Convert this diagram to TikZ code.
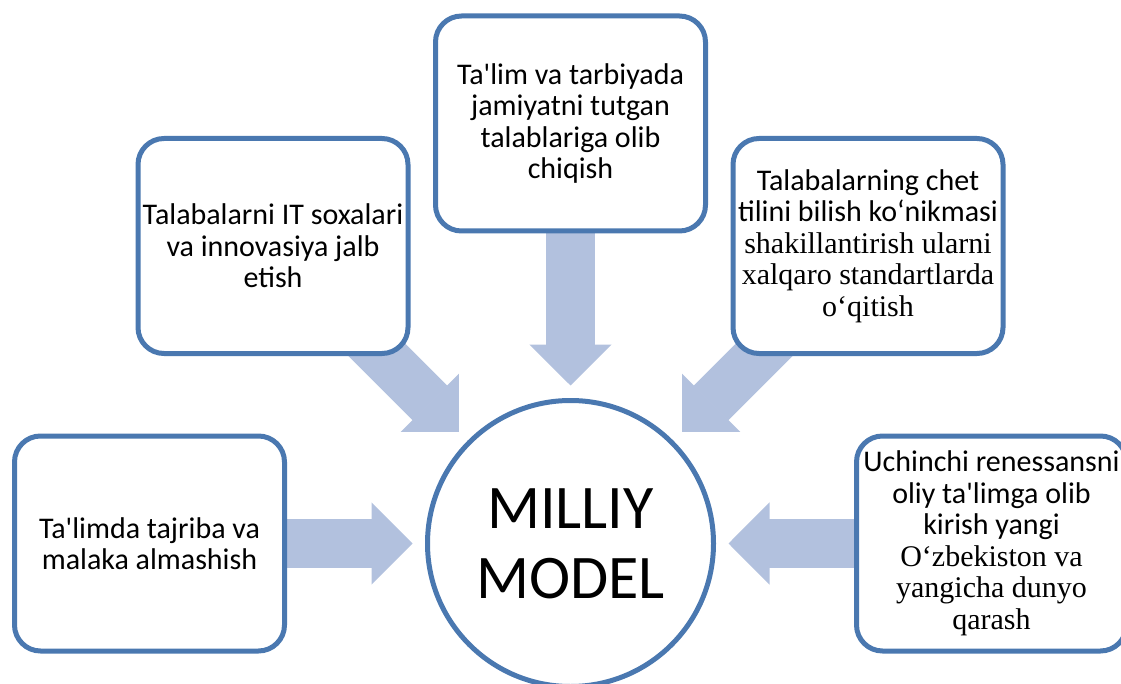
\documentclass[tikz,border=0pt]{standalone}
\usepackage{fontspec}
\setmainfont{Carlito}
\newfontfamily\timesfont{Liberation Serif}
\usetikzlibrary{arrows.meta,backgrounds}

\definecolor{edgeblue}{RGB}{74,120,176}
\definecolor{arrowfill}{RGB}{178,193,222}

\begin{document}
\begin{tikzpicture}[x=1pt,y=-1pt,
  box/.style={draw=edgeblue, line width=5pt, fill=white, rectangle, rounded corners=26pt,
    minimum width=270pt, minimum height=215pt, inner sep=0pt, align=center,
    font=\fontsize{30}{31.5}\selectfont},
  fat/.style={draw=arrowfill, line width=49pt, shorten >=12.5pt,
    -{Triangle[length=41pt,width=82pt,line width=2pt]}}
]
\useasboundingbox (0,0) rectangle (1121,684);

  \node[draw=edgeblue, line width=5pt, fill=white, circle, minimum size=286pt, inner sep=0pt,
    align=center, font=\fontsize{62}{70}\selectfont] (m) at (570.5,543.5) {MILLIY\\MODEL};

  \node[box] (n1) at (570.5,123.5) {
    Ta\textquotesingle lim va tarbiyada\\
    jamiyatni tutgan\\
    talablariga olib\\
    chiqish
  };

  \node[box] (n2) at (273,246) {
    Talabalarni IT soxalari\\
    va innovasiya jalb\\
    etish
  };

  \node[box] (n3) at (868,246) {
    Talabalarning chet\\
    tilini bilish ko‘nikmasi\\
    {\timesfont shakillantirish ularni}\\
    {\timesfont xalqaro standartlarda}\\
    {\timesfont o‘qitish}
  };

  \node[box] (n4) at (149.5,543.5) {
    Ta\textquotesingle limda tajriba va\\
    malaka almashish
  };

  \node[box] (n5) at (991.5,543.5) {
    Uchinchi renessansni\\
    oliy ta\textquotesingle limga olib\\
    kirish yangi\\
    {\timesfont O‘zbekiston va}\\
    {\timesfont yangicha dunyo}\\
    {\timesfont qarash}
  };

\begin{scope}[on background layer]
  \draw[fat] (n1.center) -- (m);
  \draw[fat] (n2.center) -- (m);
  \draw[fat] (n3.center) -- (m);
  \draw[fat] (n4.center) -- (m);
  \draw[fat] (n5.center) -- (m);
\end{scope}

\end{tikzpicture}
\end{document}
